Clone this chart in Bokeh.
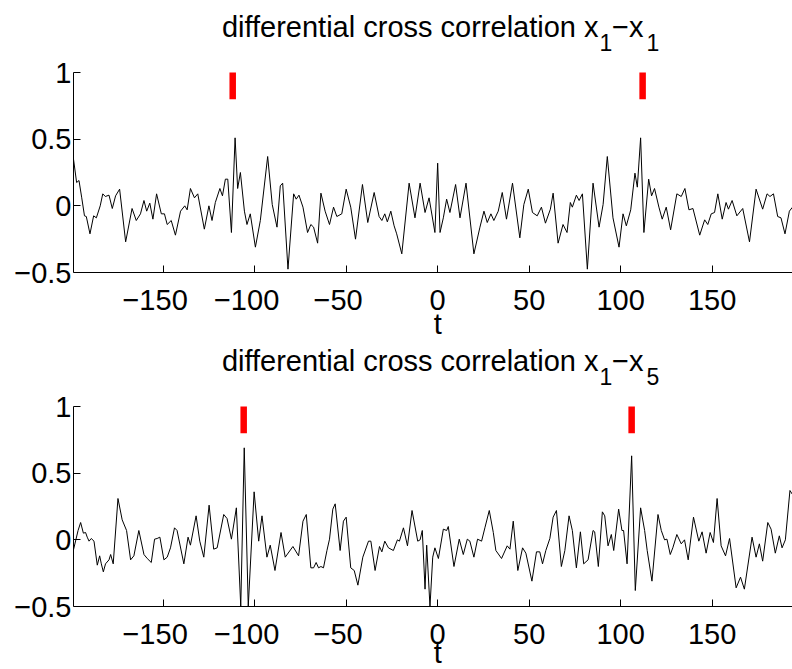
from bokeh.plotting import figure
from bokeh.layouts import column
from bokeh.models import Range1d, FixedTicker, CustomJSTickFormatter, Label
from bokeh.embed import file_html
from bokeh.resources import INLINE

# ---------------- data ----------------
# top panel: x1 - x1
top_t_a = [-199, -197.3, -196, -194.5, -193, -192, -190, -188, -186.5, -184.4,
           -183, -181.6, -179.6, -177.8, -176, -173.8, -170.5, -167, -164.7, -162.4,
           -160.5, -159, -157.3, -155.6, -153.6, -151, -149.3, -147.8, -145.6, -143.3,
           -140.5, -138.2, -136.9, -135.1, -132.9, -131.1, -127.5, -125, -123.3, -121.5,
           -119, -117.6, -116, -114.7, -112.7, -110.7, -109.3, -107.8, -105.6, -104.2,
           -102.4, -99.6, -96.9, -92.9, -90.4, -87.8, -86, -84.7, -81.8, -78.7,
           -77.3, -75.8, -73.6, -71.1, -69.3, -67.8]
top_v_a = [0.35, 0.175, 0.19, 0.06, -0.075, -0.08, -0.21, -0.075, -0.09, 0.0,
           0.09, 0.07, 0.08, -0.02, 0.075, 0.125, -0.27, -0.02, -0.11, -0.06,
           0.04, -0.04, 0.02, -0.1, 0.09, -0.06, -0.06, -0.14, -0.11, -0.22,
           -0.04, 0.0, -0.03, 0.13, 0.06, 0.09, -0.175, 0.0, -0.11, 0.025,
           0.13, 0.075, 0.2, 0.2, -0.2, 0.51, 0.13, 0.25, -0.04, -0.14,
           -0.06, -0.31, -0.11, 0.37, 0.01, -0.16, 0.15, 0.17, -0.475, 0.09,
           0.05, 0.08, -0.01, -0.2, -0.14, -0.16]
top_t_b = [-65.6, -63.8, -61.5, -59.1, -56.9, -55.1, -52.4, -50, -47.5, -44.9,
           -41.1, -38.2, -34.7, -32, -30.5, -28.9, -27.5, -25.6, -23.8, -22.4,
           -19.6, -15.6, -12.4, -9.6, -6.9, -4.7, -1.5, 0, 1.3, 3.1,
           4.9, 6.7, 9.8, 12.2, 15.5, 19.8, 23.1, 25.3, 27.1, 29.1,
           30.7, 33.1, 35.3, 37.6, 40.9, 44.9, 47.1, 49.5, 51.8, 54.4,
           56.7, 58.9, 61.6]
top_v_b = [-0.28, 0.095, -0.04, -0.14, -0.01, -0.08, -0.06, 0.125, -0.01, -0.25,
           0.16, -0.125, 0.1, -0.08, -0.11, -0.06, -0.12, -0.04, -0.15, -0.21,
           -0.36, 0.17, -0.09, 0.17, -0.05, 0.06, -0.2, 0.32, -0.2, -0.09,
           0.05, -0.05, 0.16, -0.09, 0.17, -0.36, -0.16, -0.04, -0.125, -0.06,
           -0.11, -0.04, 0.1, -0.1, 0.17, -0.24, 0.01, 0.125, -0.05, -0.075,
           -0.01, -0.13, -0.025]
top_t_c = [63.1, 65.8, 68.5, 70.7, 72.5, 73.6, 75.8, 77.3, 79.1, 81.8,
           84.9, 88.2, 90.4, 92.7, 95.8, 99.1, 101.3, 103.1, 105.5, 107.8,
           109.1, 110.9, 112.7, 115.3, 116.9, 118.5, 120.9, 122.7, 124.9, 127.3,
           130.7, 133.1, 135.1, 137.3, 139.5, 143.2, 145.9, 147.6, 149.5, 151.3,
           153.1, 155.5, 157.6, 158.9, 160.9, 163.5, 166.7, 170.4, 174, 177.6,
           180, 181.6, 183.5, 185.8, 187.6, 189.8, 192.2, 193.9]
top_v_c = [0.095, -0.28, -0.14, -0.2, 0.025, -0.01, 0.08, 0.04, 0.09, -0.475,
           0.17, -0.16, 0.01, 0.37, -0.09, -0.31, -0.06, -0.15, -0.03, 0.245,
           0.14, 0.51, -0.2, 0.2, 0.075, 0.13, -0.01, -0.1, -0.01, -0.18,
           0.09, 0.07, 0.13, -0.03, -0.02, -0.22, -0.105, -0.14, -0.06, -0.05,
           0.09, -0.1, 0.025, -0.025, 0.04, -0.075, -0.02, -0.27, 0.125, -0.025,
           0.09, 0.07, 0.09, -0.08, -0.09, -0.21, -0.04, -0.01]

# bottom panel: x1 - x5 (values below the axis are shown at the axis, -0.5)
bot_t_a = [-199.1, -196.5, -195.1, -193.6, -192.4, -191.5, -190.5, -189.3, -187.8, -186,
           -184.7, -183.8, -182.7, -181.5, -179.6, -178.7, -177.3, -174.7, -172.4, -170,
           -167.8, -166, -163.3, -160.5, -158.7, -156.5, -154.7, -153.3, -151.8, -149.6,
           -147.8, -146, -143.8, -142.4, -138.7, -136.4, -135.1, -132, -130, -127.8,
           -124.9, -122.4, -120.5, -116.9, -115.1, -112.7, -110, -107.6, -105.7, -103.5,
           -100.3, -97.8, -96, -93.3, -91.5, -88.9, -85.6, -83.3, -79.1, -76,
           -73.6, -71.8, -69.3, -67.8]
bot_v_a = [-0.08, 0.07, 0.13, 0.05, 0.055, 0.02, -0.01, 0.01, -0.01, -0.19,
           -0.12, -0.18, -0.24, -0.18, -0.15, -0.11, -0.18, 0.31, 0.15, 0.07,
           -0.15, -0.12, 0.07, -0.11, -0.14, -0.17, 0.005, 0.01, 0.02, -0.15,
           -0.13, -0.06, 0.09, 0.07, -0.18, 0.02, -0.04, 0.18, -0.01, -0.13,
           0.26, -0.07, -0.06, 0.19, 0.16, 0.005, 0.24, -0.5, 0.69, -0.5,
           0.36, -0.01, 0.18, -0.13, -0.04, -0.23, 0.055, -0.13, -0.05, -0.12,
           0.14, 0.19, -0.21, -0.21]
bot_t_b = [-66.4, -65.1, -63.8, -62.4, -60.5, -59.1, -57.3, -56, -53.3, -51.5,
           -50, -47.5, -45.6, -43.6, -40.9, -37.8, -36.5, -34.2, -31.8, -30.5,
           -28.9, -26.9, -24.2, -22, -20.9, -18.7, -16.5, -14, -10.9, -9.6,
           -8.4, -6.9, -6, -4.2, -2.7, -1.5, 0.4, 3.1, 4.9, 5.8,
           8.9, 11.8, 14, 16.2, 17.6, 19.8, 21.8, 24, 25.8, 28.2,
           30.4, 31.8, 34.9, 38, 39.5, 41.3, 43.8, 46.4, 48.2, 51.5,
           54, 55.8, 57.3, 59.1, 61.3]
bot_v_b = [-0.17, -0.21, -0.2, -0.21, -0.08, 0.005, 0.23, 0.27, -0.08, 0.14,
           0.17, -0.21, -0.23, -0.34, -0.13, -0.01, -0.01, -0.23, -0.05, -0.09,
           -0.01, -0.06, -0.08, 0.0, -0.01, 0.09, -0.045, 0.22, -0.01, 0.0,
           0.07, -0.37, -0.04, -0.5, -0.13, -0.06, -0.14, 0.08, 0.07, 0.1,
           -0.2, 0.005, -0.11, 0.005, -0.01, -0.13, 0.005, -0.01, 0.09, 0.22,
           0.055, -0.08, -0.14, -0.045, -0.07, 0.14, -0.23, -0.06, -0.1, -0.31,
           -0.09, -0.09, -0.18, -0.08, 0.01]
bot_t_c = [63.1, 64.9, 67.6, 69.5, 71.8, 73.6, 75.8, 78, 79.8, 82.2,
           84.9, 85.8, 87.8, 90, 91.3, 93.1, 94.9, 96.2, 98.9, 100.7,
           101.6, 103.5, 106, 108, 110.9, 113.1, 114.5, 117.1, 120.4, 122.2,
           124, 125.3, 127.1, 128.5, 130.7, 133.1, 134.9, 136.9, 139.8, 142.7,
           144.5, 146.7, 148.9, 150.7, 152.7, 154.9, 157.3, 159.5, 163.1, 165.5,
           167.6, 171.8, 174, 175.8, 177.6, 180.4, 182.2, 184.5, 186.7, 188.2,
           190, 192.5, 193.9]
bot_v_c = [0.17, 0.22, -0.2, -0.08, 0.18, 0.07, -0.21, 0.06, -0.18, -0.15,
           0.07, 0.06, -0.2, 0.21, 0.18, -0.045, 0.04, -0.08, 0.23, 0.07,
           0.07, -0.18, 0.63, -0.38, 0.24, 0.07, -0.08, -0.31, 0.19, 0.07,
           0.0, 0.005, -0.11, -0.06, 0.04, -0.03, 0.0, -0.15, 0.17, -0.01,
           0.06, -0.1, 0.055, -0.02, 0.31, -0.045, -0.12, 0.01, -0.36, -0.28,
           -0.37, 0.02, -0.13, -0.03, -0.16, 0.13, 0.08, -0.1, 0.03, -0.06,
           0.0, 0.37, 0.34]

# red lag markers
top_marks = [-112, 112]
bot_marks = [-106, 106]
mark_lo, mark_hi = 0.8, 1.0

x_ticks = [-150, -100, -50, 0, 50, 100, 150]
y_ticks = [-0.5, 0, 0.5, 1]

top_title = ("differential cross correlation x", "1", "\u2212x", "1")
bot_title = ("differential cross correlation x", "1", "\u2212x", "5")
x_label = "t"

FONT = "Liberation Sans"
X_RANGE = (-199, 193.9)
Y_AXIS = (-0.5, 1.0)
PX = 200 / 1.5  # frame pixels per y unit

# x labels: digits centred on the tick, minus sign hanging to the left
x_fmt = CustomJSTickFormatter(
    code="return (tick < 0 ? '\u2212' + String(-tick) + '\u2007' : String(tick));")
y_fmt = CustomJSTickFormatter(
    code="return (tick < 0 ? '\u2212' + String(-tick) : String(tick));")


def make_panel(t, v, marks, title, height, top_px, t_below):
    # frame spans the whole panel height; axis -0.5..1 occupies top_px..top_px+200
    y_top = Y_AXIS[1] + top_px / PX
    y_bot = Y_AXIS[0] - (height - top_px - 200) / PX
    p = figure(width=792, height=height,
               x_range=Range1d(*X_RANGE), y_range=Range1d(y_bot, y_top),
               output_backend="svg", toolbar_location=None,
               min_border_left=73, min_border_right=0,
               min_border_top=0, min_border_bottom=0)
    p.outline_line_color = None
    p.grid.visible = False
    p.background_fill_color = "white"
    p.border_fill_color = "white"

    xa, ya = p.xaxis[0], p.yaxis[0]
    for ax in (xa, ya):
        ax.axis_line_color = "black"
        ax.axis_line_width = 1
        ax.major_tick_line_color = "black"
        ax.major_tick_in = 7
        ax.major_tick_out = 0
        ax.minor_tick_line_color = None
        ax.major_label_text_font = FONT
        ax.major_label_text_font_size = "29px"
        ax.major_label_text_color = "black"
    xa.formatter = x_fmt
    ya.formatter = y_fmt
    xa.ticker = FixedTicker(ticks=x_ticks)
    ya.ticker = FixedTicker(ticks=y_ticks)
    xa.fixed_location = Y_AXIS[0]
    ya.bounds = Y_AXIS
    xa.major_label_standoff = 11
    ya.major_label_standoff = 2

    p.line(t, v, line_color="black", line_width=1)
    p.segment(x0=marks, y0=[mark_lo] * len(marks), x1=marks, y1=[mark_hi] * len(marks),
              line_color="#ff0000", line_width=6.5, line_cap="butt")

    main, s1, mid, s2 = title
    common = dict(text_baseline="middle", text_font=FONT, text_color="black")
    y_main = Y_AXIS[1] + (35 + 0.35 * 29) / PX
    y_sub = Y_AXIS[1] + (22 + 0.35 * 23) / PX
    p.add_layout(Label(x=87.9, y=y_main, text=main, text_align="right",
                       text_font_size="29px", **common))
    p.add_layout(Label(x=88.4, y=y_sub, text=s1, text_align="left",
                       text_font_size="23px", **common))
    p.add_layout(Label(x=95.3, y=y_main, text=mid, text_align="left",
                       text_font_size="29px", **common))
    p.add_layout(Label(x=114.1, y=y_sub, text=s2, text_align="left",
                       text_font_size="23px", **common))
    p.add_layout(Label(x=0, y=Y_AXIS[0] - (t_below - 0.35 * 29) / PX, text=x_label,
                       text_align="center", text_font_size="29px", **common))
    return p


p1 = make_panel(top_t_a + top_t_b + top_t_c, top_v_a + top_v_b + top_v_c,
                top_marks, top_title, 340, 72, 62)
p2 = make_panel(bot_t_a + bot_t_b + bot_t_c, bot_v_a + bot_v_b + bot_v_c,
                bot_marks, bot_title, 329, 66, 57)

layout = column(p1, p2, spacing=0)

with open("out.html", "w", encoding="utf-8") as f:
    f.write(file_html(layout, INLINE))
